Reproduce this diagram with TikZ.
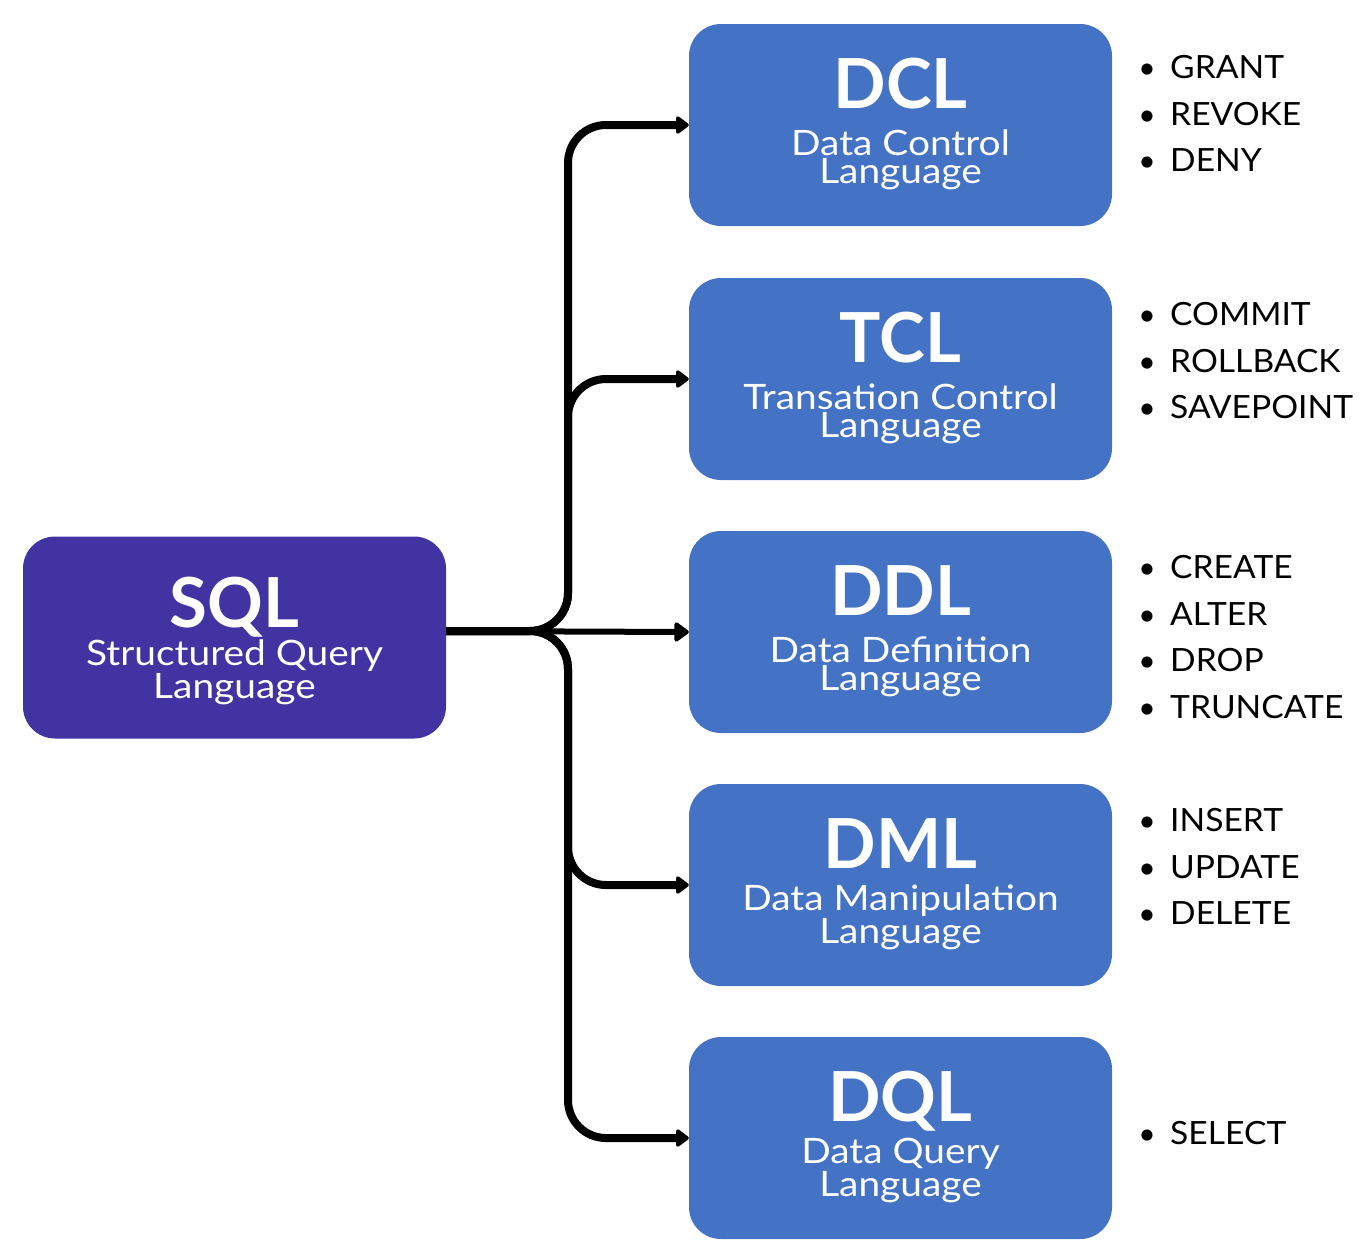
\documentclass[tikz,border=0pt]{standalone}
\usepackage{fontspec}
\setmainfont{Lato}
\newfontfamily\subfont[FakeStretch=1.11]{Lato}
\newfontfamily\listfont[FakeStretch=1.05]{Lato}
\usetikzlibrary{arrows.meta}
\definecolor{sqlpurple}{HTML}{4233A3}
\definecolor{boxblue}{HTML}{4472C4}
\begin{document}
\begin{tikzpicture}[x=1pt,y=-1pt,
  box/.style={rounded corners=32pt, minimum width=423pt, minimum height=202pt, inner sep=0pt, draw=none},
  ttl/.style={text=white, font=\fontsize{69}{69}\selectfont\bfseries, anchor=base, inner sep=0pt},
  sub/.style={text=white, font=\subfont\fontsize{35}{28}\selectfont, align=center, anchor=base, inner sep=0pt},
  item/.style={font=\listfont\fontsize{32}{32}\selectfont, anchor=base west, inner sep=0pt},
  bul/.style={font=\fontsize{30}{30}\selectfont, anchor=base, inner sep=0pt},
  conn/.style={line width=8pt, rounded corners=38pt, -{Triangle[length=14pt,width=20pt,round]}},
  connthin/.style={line width=6pt, -{Triangle[length=16pt,width=22pt,round]}}]
\useasboundingbox (0,0) rectangle (1372,1259);
% boxes
\node[box, fill=sqlpurple] (sql) at (234.5,637.5) {};
\node[box, fill=boxblue] (dcl) at (900.5,125) {};
\node[box, fill=boxblue] (tcl) at (900.5,379) {};
\node[box, fill=boxblue] (ddl) at (900.5,632) {};
\node[box, fill=boxblue] (dml) at (900.5,885) {};
\node[box, fill=boxblue] (dql) at (900.5,1138) {};
% texts (sub nodes anchored on the baseline of their last line)
\node[ttl] (sqlT) at (234.5,627) {SQL};
\node[sub] (sqlS) at (234.5,698) {Structured Query\\Language};
\node[ttl] (dclT) at (900.5,108) {DCL};
\node[sub] (dclS) at (900.5,183) {Data Control\\Language};
\node[ttl] (tclT) at (900.5,362) {TCL};
\node[sub] (tclS) at (900.5,437) {Transation Control\\Language};
\node[ttl] (ddlT) at (900.5,615) {DDL};
\node[sub] (ddlS) at (900.5,690) {Data Definition\\Language};
\node[ttl] (dmlT) at (900.5,868) {DML};
\node[sub] (dmlS) at (900.5,943) {Data Manipulation\\Language};
\node[ttl] (dqlT) at (900.5,1121) {DQL};
\node[sub] (dqlS) at (900.5,1196) {Data Query\\Language};
% connectors
\coordinate (split) at (568,631);
\draw[conn] (sql.east |- split) -- (split) -- (568,125) -- (dcl.west);
\draw[conn] (sql.east |- split) -- (split) -- (568,379) -- (tcl.west);
\draw[conn] (sql.east |- split) -- (split) -- (568,885) -- (dml.west);
\draw[conn] (sql.east |- split) -- (split) -- (568,1138) -- (dql.west);
\draw[connthin] (sql.east |- split) -- (ddl.west);
% lists
\foreach \t [count=\i] in {GRANT,REVOKE,DENY}{
  \node[bul] (dclb\i) at (1147,{78.5+46.5*(\i-1)}) {•};
  \node[item] (dcli\i) at (1170,{78.5+46.5*(\i-1)}) {\t};}
\foreach \t [count=\i] in {COMMIT,ROLLBACK,SAVEPOINT}{
  \node[bul] (tclb\i) at (1147,{325.5+46.5*(\i-1)}) {•};
  \node[item] (tcli\i) at (1170,{325.5+46.5*(\i-1)}) {\t};}
\foreach \t [count=\i] in {CREATE,ALTER,DROP,TRUNCATE}{
  \node[bul] (ddlb\i) at (1147,{578.5+46.5*(\i-1)}) {•};
  \node[item] (ddli\i) at (1170,{578.5+46.5*(\i-1)}) {\t};}
\foreach \t [count=\i] in {INSERT,UPDATE,DELETE}{
  \node[bul] (dmlb\i) at (1147,{831.5+46.5*(\i-1)}) {•};
  \node[item] (dmli\i) at (1170,{831.5+46.5*(\i-1)}) {\t};}
\node[bul] (dqlb1) at (1147,1144.5) {•};
\node[item] (dqli1) at (1170,1144.5) {SELECT};
\end{tikzpicture}
\end{document}
